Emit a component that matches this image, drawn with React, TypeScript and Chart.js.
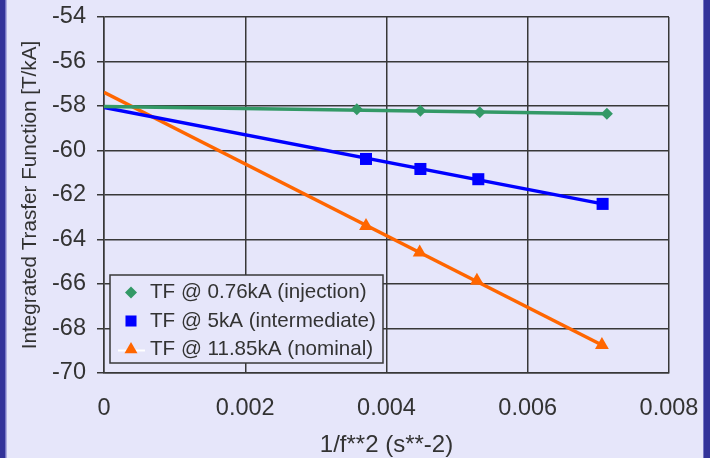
import React, { useEffect, useRef } from "react";
import { Chart, registerables } from "chart.js";

Chart.register(...registerables);

// ---- data ----
const seriesLabels = [
  "TF @ 0.76kA (injection)",
  "TF @ 5kA (intermediate)",
  "TF @ 11.85kA (nominal)",
];
const injectionX = [0.00358, 0.00448, 0.00532, 0.00712];
const injectionY = [-58.15, -58.21, -58.28, -58.35];
const intermediateX = [0.00371, 0.00448, 0.0053, 0.00706];
const intermediateY = [-60.38, -60.83, -61.29, -62.4];
const nominalX = [0.00371, 0.00447, 0.00528, 0.00705];
const nominalY = [-63.39, -64.58, -65.85, -68.74];

// trend (fit) lines, read at their two ends
const injectionTrendX = [0, 0.00712];
const injectionTrendY = [-58.02, -58.35];
const intermediateTrendX = [0, 0.00706];
const intermediateTrendY = [-58.07, -62.4];
const nominalTrendX = [0, 0.00705];
const nominalTrendY = [-57.38, -68.74];

const xTickValues = [0, 0.002, 0.004, 0.006, 0.008];
const xTickLabels = ["0", "0.002", "0.004", "0.006", "0.008"];
const yTickValues = [-70, -68, -66, -64, -62, -60, -58, -56, -54];
const yTickLabels = ["-70", "-68", "-66", "-64", "-62", "-60", "-58", "-56", "-54"];

const xTitle = "1/f**2 (s**-2)";
const yTitle = "Integrated Trasfer Function [T/kA]";

// ---- styles ----
const BG = "#E6E6FA";
const FRAME = "#333399";
const GREEN = "#339966";
const BLUE = "#0000FF";
const ORANGE = "#FF6600";
const GRID = "#383838";
const TEXT = "#333333";
const FONT = "'Liberation Sans', Arial, sans-serif";

const toPts = (xs: number[], ys: number[]) => xs.map((x, i) => ({ x, y: ys[i] }));

const bgPlugin = {
  id: "bgFrame",
  beforeDraw(chart: any) {
    const { ctx, width, height } = chart;
    ctx.save();
    ctx.fillStyle = BG;
    ctx.fillRect(0, 0, width, height);
    ctx.fillStyle = FRAME;
    ctx.fillRect(0, 0, 5, height);
    ctx.fillRect(width - 6, 0, 6, height);
    ctx.fillStyle = "#7777C4";
    ctx.fillRect(5, 0, 1.5, height);
    ctx.fillRect(width - 7, 0, 1, height);
    ctx.restore();
  },
};

function drawMarker(ctx: CanvasRenderingContext2D, style: string, x: number, y: number, r: number, color: string) {
  ctx.beginPath();
  if (style === "rectRot") {
    ctx.moveTo(x - r, y);
    ctx.lineTo(x, y - r);
    ctx.lineTo(x + r, y);
    ctx.lineTo(x, y + r);
  } else if (style === "rect") {
    const s = Math.SQRT1_2 * r;
    ctx.rect(x - s, y - s, 2 * s, 2 * s);
  } else {
    const a = (2 * Math.PI) / 3;
    ctx.moveTo(x, y - r);
    ctx.lineTo(x + Math.sin(a) * r, y - Math.cos(a) * r);
    ctx.lineTo(x + Math.sin(2 * a) * r, y - Math.cos(2 * a) * r);
  }
  ctx.closePath();
  ctx.fillStyle = color;
  ctx.fill();
}

const insideLegend = {
  id: "insideLegend",
  afterDraw(chart: any) {
    const { ctx, chartArea } = chart;
    const left = chartArea.left + 6;
    const bottom = chartArea.bottom - 10;
    const w = 273;
    const h = 88;
    const top = bottom - h;
    ctx.save();
    ctx.fillStyle = BG;
    ctx.fillRect(left, top, w, h);
    ctx.strokeStyle = GRID;
    ctx.lineWidth = 1.5;
    ctx.strokeRect(left, top, w, h);
    const items = chart.data.datasets.filter((d: any) => d.inLegend);
    items.forEach((d: any, i: number) => {
      const y = top + 17.5 + i * 28.5;
      const mx = left + 21;
      if (d.legendLine) {
        ctx.strokeStyle = d.legendLine;
        ctx.lineWidth = 2;
        ctx.beginPath();
        ctx.moveTo(left + 8, y + 1);
        ctx.lineTo(left + 35, y + 1);
        ctx.stroke();
      }
      drawMarker(ctx, d.pointStyle, mx, y, d.legendRadius, d.backgroundColor);
      ctx.fillStyle = TEXT;
      ctx.font = `20.6px ${FONT}`;
      ctx.textAlign = "left";
      ctx.textBaseline = "middle";
      ctx.fillText(d.label, left + 40, y);
    });
    ctx.restore();
  },
};

export default function App() {
  const ref = useRef<HTMLCanvasElement | null>(null);

  useEffect(() => {
    document.body.style.margin = "0";
    const canvas = ref.current;
    if (!canvas) return;
    const markerBase = { showLine: false, pointBorderWidth: 0, inLegend: true };
    const trendBase = { showLine: true, pointRadius: 0, borderWidth: 3.5, inLegend: false, fill: false };
    const chart = new Chart(canvas, {
      type: "scatter",
      data: {
        datasets: [
          {
            ...markerBase,
            label: seriesLabels[0],
            data: toPts(injectionX, injectionY),
            pointStyle: "rectRot",
            pointRadius: 6,
            legendRadius: 6,
            backgroundColor: GREEN,
            borderColor: GREEN,
          },
          {
            ...markerBase,
            label: seriesLabels[1],
            data: toPts(intermediateX, intermediateY),
            pointStyle: "rect",
            pointRadius: 8.5,
            legendRadius: 7.8,
            backgroundColor: BLUE,
            borderColor: BLUE,
          },
          {
            ...markerBase,
            label: seriesLabels[2],
            data: toPts(nominalX, nominalY),
            pointStyle: "triangle",
            pointRadius: 8,
            legendRadius: 7.5,
            legendLine: "#FFFFFF",
            backgroundColor: ORANGE,
            borderColor: ORANGE,
          },
          { ...trendBase, label: "fit1", data: toPts(injectionTrendX, injectionTrendY), borderColor: GREEN, backgroundColor: GREEN },
          { ...trendBase, label: "fit2", data: toPts(intermediateTrendX, intermediateTrendY), borderColor: BLUE, backgroundColor: BLUE },
          { ...trendBase, label: "fit3", data: toPts(nominalTrendX, nominalTrendY), borderColor: ORANGE, backgroundColor: ORANGE },
        ] as any,
      },
      options: {
        animation: false,
        responsive: false,
        events: [],
        layout: { padding: { top: 17, right: 41, left: 0, bottom: 0 } },
        plugins: { legend: { display: false }, tooltip: { enabled: false } },
        scales: {
          x: {
            type: "linear",
            min: 0,
            max: 0.008,
            afterBuildTicks: (s: any) => {
              s.ticks = xTickValues.map((v) => ({ value: v }));
            },
            afterFit: (s: any) => {
              s.height = 85;
              s.paddingLeft = 0;
              s.paddingRight = 0;
            },
            grid: { color: GRID, lineWidth: 1.5, drawTicks: false },
            border: { color: GRID, width: 1.5 },
            ticks: {
              color: TEXT,
              padding: 21,
              maxRotation: 0,
              font: { family: FONT, size: 23.5 },
              callback: (_v: any, i: number) => xTickLabels[i],
            },
            title: {
              display: true,
              text: xTitle,
              color: TEXT,
              font: { family: FONT, size: 24 },
              padding: { top: 0, bottom: -2 },
            },
          },
          y: {
            type: "linear",
            min: -70,
            max: -54,
            afterBuildTicks: (s: any) => {
              s.ticks = yTickValues.map((v) => ({ value: v }));
            },
            afterFit: (s: any) => {
              s.width = 104;
              s.paddingTop = 0;
              s.paddingBottom = 0;
            },
            grid: { color: GRID, lineWidth: 1.5, drawTicks: true, tickLength: 7 },
            border: { color: GRID, width: 1.5 },
            ticks: {
              color: TEXT,
              padding: 11,
              font: { family: FONT, size: 23.5 },
              callback: (_v: any, i: number) => yTickLabels[i],
            },
            title: {
              display: true,
              text: yTitle,
              color: TEXT,
              font: { family: FONT, size: 20.7 },
              padding: { top: 18, bottom: 0 },
            },
          },
        },
      },
      plugins: [bgPlugin, insideLegend],
    } as any);
    return () => chart.destroy();
  }, []);

  return (
    <div style={{ width: 710, height: 458 }}>
      <canvas ref={ref} width={710} height={458} style={{ display: "block" }} />
    </div>
  );
}
